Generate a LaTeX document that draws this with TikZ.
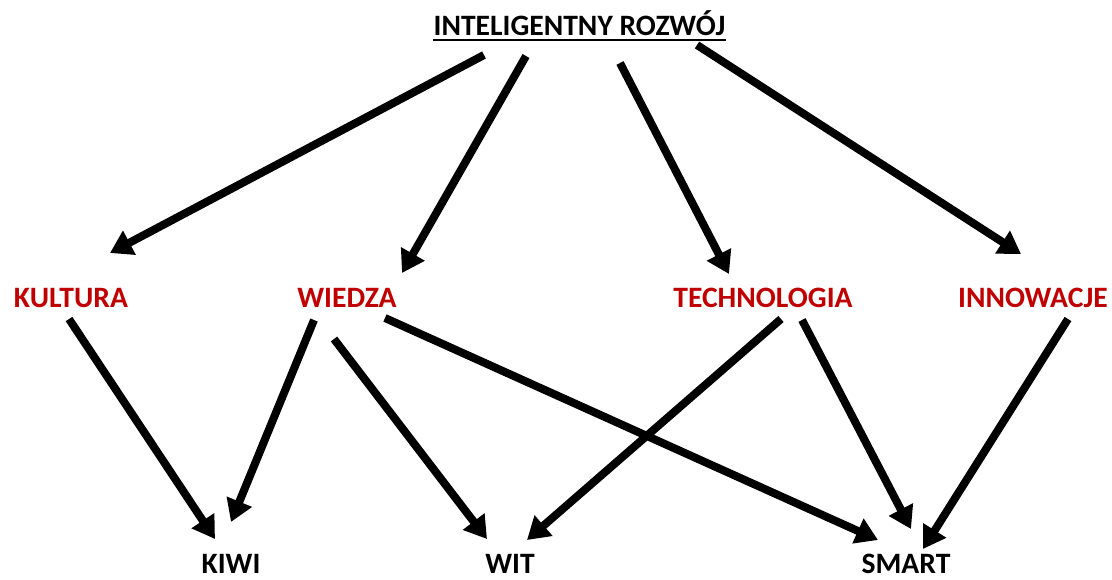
\documentclass[tikz,border=0pt]{standalone}
\usepackage{fontspec}
\setmainfont{Carlito}
\usetikzlibrary{arrows.meta,calc}
\definecolor{labelred}{HTML}{C00000}
\begin{document}
\begin{tikzpicture}[x=1pt,y=-1pt,
  lbl/.style={inner sep=0pt,anchor=base,font=\fontsize{29.6}{35}\selectfont\bfseries},
  redlbl/.style={lbl,text=labelred},
  arr/.style={line width=8pt,-{Triangle[length=22pt,width=26pt]}}]
\useasboundingbox (0,0) rectangle (1112,579);
% labels
\node[lbl] (top) at (579.5,35) {INTELIGENTNY ROZWÓJ};
\draw[line width=2pt] ([yshift=-5pt]top.base west) -- ([yshift=-5pt]top.base east);
\node[redlbl] (kul) at (71,307) {KULTURA};
\node[redlbl] (wie) at (347,307) {WIEDZA};
\node[redlbl] (tec) at (763,307) {TECHNOLOGIA};
\node[redlbl] (inn) at (1033,307) {INNOWACJE};
\node[lbl] (kiwi) at (231,573) {KIWI};
\node[lbl] (wit) at (510,573) {WIT};
\node[lbl] (smart) at (906,573) {SMART};
% top level to the four pillars
\draw[arr] ($(top.base)+(-95.5,20)$) -- ($(kul.base)+(39,-54)$);
\draw[arr] ($(top.base)+(-53.5,21)$) -- ($(wie.base)+(55,-34)$);
\draw[arr] ($(top.base)+(40.5,28)$) -- ($(tec.base)+(-34,-33)$);
\draw[arr] ($(top.base)+(117.5,10)$) -- ($(inn.base)+(-12,-53)$);
% pillars to outcomes
\draw[arr] ($(kul.base)+(-2,12)$) -- ($(kiwi.base)+(-16,-34)$);
\draw[arr] ($(wie.base)+(-33,13)$) -- ($(kiwi.base)+(0,-51)$);
\draw[arr] ($(wie.base)+(-13,32)$) -- ($(wit.base)+(-23,-34)$);
\draw[arr] ($(wie.base)+(38,11)$) -- ($(smart.base)+(-28,-33)$);
\draw[arr] ($(tec.base)+(18,12)$) -- ($(wit.base)+(17,-33)$);
\draw[arr] ($(tec.base)+(39,13)$) -- ($(smart.base)+(5,-44)$);
\draw[arr] ($(inn.base)+(35,12)$) -- ($(smart.base)+(17,-24)$);
\end{tikzpicture}
\end{document}
